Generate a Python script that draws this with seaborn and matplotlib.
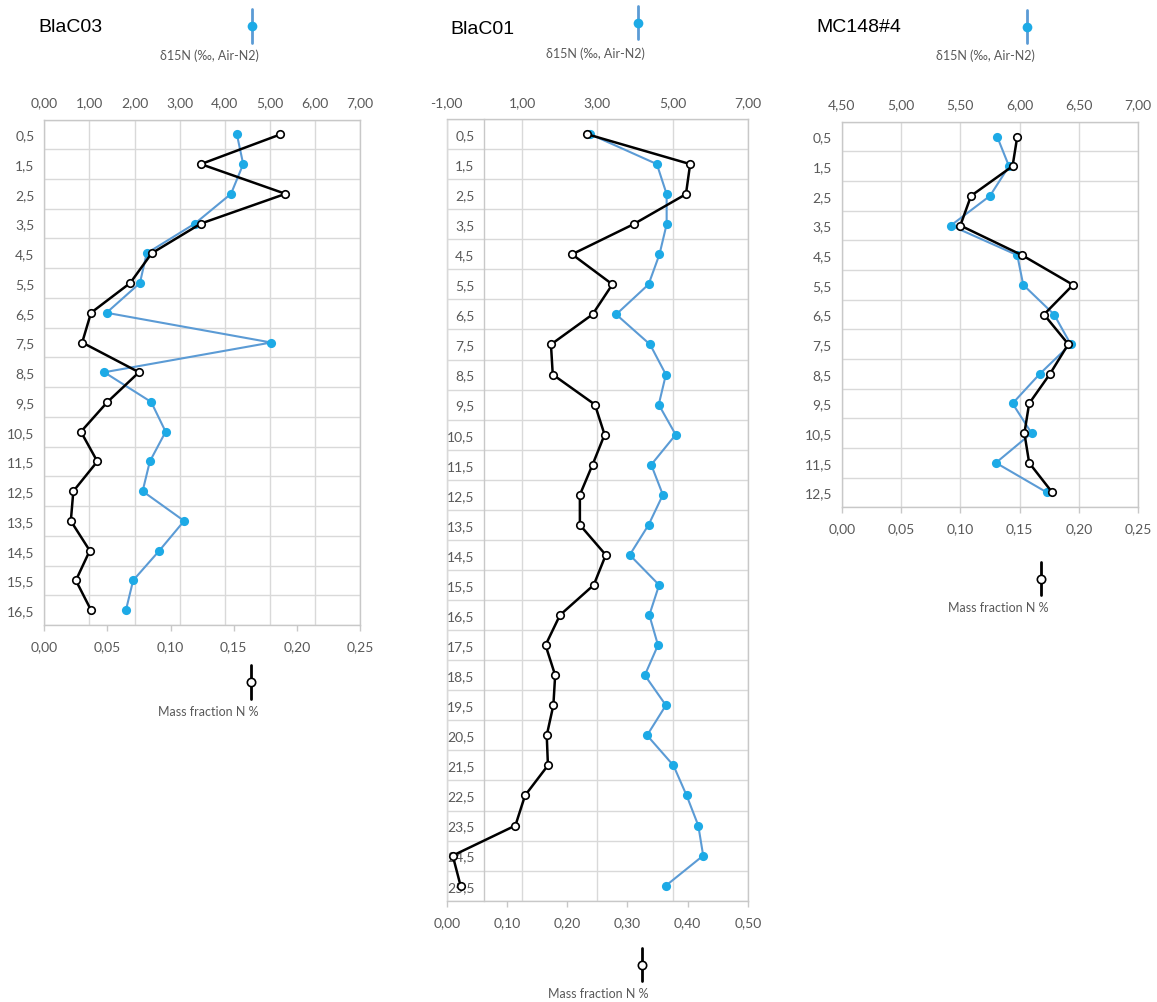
import matplotlib
matplotlib.use("Agg")
import matplotlib.pyplot as plt
import seaborn as sns
from matplotlib.lines import Line2D

# ---------------- data ----------------
blac03_depth = [0.5, 1.5, 2.5, 3.5, 4.5, 5.5, 6.5, 7.5, 8.5, 9.5, 10.5, 11.5, 12.5, 13.5, 14.5, 15.5, 16.5]
blac03_d15n = [4.27, 4.41, 4.14, 3.34, 2.27, 2.12, 1.38, 5.03, 1.33, 2.37, 2.69, 2.34, 2.18, 3.10, 2.55, 1.97, 1.81]
blac03_massN = [0.187, 0.124, 0.191, 0.124, 0.085, 0.068, 0.037, 0.030, 0.075, 0.050, 0.029, 0.042, 0.023, 0.021, 0.036, 0.025, 0.037]

blac01_depth = [0.5, 1.5, 2.5, 3.5, 4.5, 5.5, 6.5, 7.5, 8.5, 9.5, 10.5, 11.5, 12.5, 13.5, 14.5, 15.5, 16.5,
                17.5, 18.5, 19.5, 20.5, 21.5, 22.5, 23.5, 24.5, 25.5]
blac01_d15n = [2.80, 4.58, 4.84, 4.84, 4.65, 4.36, 3.50, 4.40, 4.82, 4.63, 5.08, 4.43, 4.74, 4.36, 3.86, 4.64,
               4.38, 4.61, 4.26, 4.82, 4.32, 5.02, 5.37, 5.68, 5.81, 4.82]
blac01_massN = [0.232, 0.404, 0.397, 0.310, 0.208, 0.275, 0.242, 0.173, 0.176, 0.246, 0.262, 0.242, 0.221, 0.221,
                0.264, 0.244, 0.188, 0.164, 0.180, 0.177, 0.166, 0.168, 0.130, 0.114, 0.010, 0.023]

mc148_depth = [0.5, 1.5, 2.5, 3.5, 4.5, 5.5, 6.5, 7.5, 8.5, 9.5, 10.5, 11.5, 12.5]
mc148_d15n = [5.81, 5.91, 5.75, 5.42, 5.98, 6.03, 6.29, 6.43, 6.17, 5.94, 6.10, 5.80, 6.23]
mc148_massN = [0.148, 0.144, 0.109, 0.100, 0.152, 0.195, 0.1705, 0.191, 0.1756, 0.158, 0.154, 0.158, 0.1775]

blac03_d15n_ticks = [0, 1, 2, 3, 4, 5, 6, 7]
blac01_d15n_ticks = [-1, 1, 3, 5, 7]
mc148_d15n_ticks = [4.5, 5.0, 5.5, 6.0, 6.5, 7.0]
blac03_mass_ticks = [0, 0.05, 0.10, 0.15, 0.20, 0.25]
blac01_mass_ticks = [0, 0.10, 0.20, 0.30, 0.40, 0.50]
mc148_mass_ticks = [0, 0.05, 0.10, 0.15, 0.20, 0.25]

titles = ["BlaC03", "BlaC01", "MC148#4"]
d15n_label = "δ15N (‰, Air-N2)"
mass_label = "Mass fraction N %"

# ---------------- style ----------------
sns.set_style("white")
plt.rcParams['font.family'] = ['Lato', 'DejaVu Sans']

W, H = 1157, 1003
BLUE_LINE = "#5B9BD5"
BLUE_DOT = "#1DAAE6"
GRID = "#D9D9D9"
SPINE = "#C8C8C8"
TXT = "#595959"

fig = plt.figure(figsize=(W / 100, H / 100), dpi=100)


def rect(l, t, r, b):
    return [l / W, 1 - b / H, (r - l) / W, (b - t) / H]


def comma(v, nd):
    return f"{v:.{nd}f}".replace(".", ",")


def panel(box, depth, d15n, mass, d15n_ticks, mass_ticks, axis_zero=None):
    ax = fig.add_axes(rect(*box))
    ax2 = ax.twiny()
    sns.lineplot(x=d15n, y=depth, ax=ax, sort=False, estimator=None, color=BLUE_LINE, lw=1.5,
                 marker='o', markersize=6.6, markerfacecolor=BLUE_DOT, markeredgecolor=BLUE_DOT,
                 markeredgewidth=0, zorder=3)
    sns.lineplot(x=mass, y=depth, ax=ax2, sort=False, estimator=None, color='black', lw=1.8,
                 marker='o', markersize=5.4, markerfacecolor='white', markeredgecolor='black',
                 markeredgewidth=1.2, zorder=4)
    ax.set_xlim(d15n_ticks[0], d15n_ticks[-1])
    ax2.set_xlim(mass_ticks[0], mass_ticks[-1])
    ax.set_ylim(depth[-1] + 0.5, depth[0] - 0.5)
    ax.set_xlabel(""); ax.set_ylabel(""); ax2.set_xlabel(""); ax2.set_ylabel("")

    # y ticks (categories) and boundaries for grid
    ax.set_yticks(depth)
    ax.set_yticklabels([comma(d, 1) for d in depth])
    ax.set_yticks([d - 0.5 for d in depth] + [depth[-1] + 0.5], minor=True)
    ax.grid(False)
    ax.grid(axis='y', which='minor', color=GRID, lw=1.0)
    ax.grid(axis='x', which='major', color=GRID, lw=1.0)
    ax.set_axisbelow(True)

    # top axis: d15N
    ax.xaxis.tick_top()
    ax.set_xticks(d15n_ticks)
    ax.set_xticklabels([comma(t, 2) for t in d15n_ticks])
    ax.tick_params(axis='x', which='both', length=0, pad=8, labelsize=10, labelcolor=TXT)
    ax.tick_params(axis='y', which='both', length=0, pad=7, labelsize=10, labelcolor=TXT)

    # bottom axis: mass fraction
    ax2.xaxis.tick_bottom()
    ax2.set_xticks(mass_ticks)
    ax2.set_xticklabels([comma(t, 2) for t in mass_ticks])
    ax2.tick_params(axis='x', length=4, width=1.0, color=SPINE, pad=7, labelsize=10, labelcolor=TXT)

    for s in ['top', 'right', 'left']:
        ax.spines[s].set_color(SPINE)
        ax.spines[s].set_linewidth(1.0)
    ax.spines['bottom'].set_visible(False)
    for s in ['top', 'right', 'left']:
        ax2.spines[s].set_visible(False)
    ax2.spines['bottom'].set_color(SPINE)
    ax2.spines['bottom'].set_linewidth(1.0)

    if axis_zero is not None:
        ax.spines['left'].set_position(('data', axis_zero))
        ax.axvline(d15n_ticks[0], color=SPINE, lw=1.0, clip_on=False, zorder=0.5)
    return ax, ax2


panel((44.3, 120.5, 360, 626), blac03_depth, blac03_d15n, blac03_massN, blac03_d15n_ticks, blac03_mass_ticks)
panel((446.7, 120, 748, 901.7), blac01_depth, blac01_d15n, blac01_massN, blac01_d15n_ticks, blac01_mass_ticks,
      axis_zero=0)
panel((841.7, 122.7, 1138.3, 508.3), mc148_depth, mc148_d15n, mc148_massN, mc148_d15n_ticks, mc148_mass_ticks)


# ---------------- titles and legend keys ----------------
def ftext(x, y, s, **kw):
    fig.text(x / W, 1 - y / H, s, **kw)


def key(x, y0, y1, line_color, lw, face, edge, mew, ms):
    fig.add_artist(Line2D([x / W, x / W], [1 - y0 / H, 1 - y1 / H], transform=fig.transFigure,
                          color=line_color, lw=lw))
    fig.add_artist(Line2D([x / W], [1 - (y0 + y1) / 2 / H], transform=fig.transFigure, marker='o',
                          markersize=ms, markerfacecolor=face, markeredgecolor=edge, markeredgewidth=mew,
                          linestyle='none'))


title_pos = [(38, 27), (450, 29), (816, 27)]
for (tx, ty), t in zip(title_pos, titles):
    ftext(tx, ty, t, ha='left', va='center', fontsize=14, family=['Liberation Sans'], color='black')

top_keys = [(252, 10, 44, 209, 56), (638, 7, 40, 595, 54), (1027, 11, 44, 985, 56)]
for kx, y0, y1, tx, ty in top_keys:
    key(kx, y0, y1, BLUE_LINE, 2.0, BLUE_DOT, BLUE_DOT, 0, 7)
    ftext(tx, ty, d15n_label, ha='center', va='center', fontsize=9, color=TXT)

bot_keys = [(251, 666, 700, 208, 712), (642, 949, 982, 598, 994), (1041, 563, 596, 998, 608)]
for kx, y0, y1, tx, ty in bot_keys:
    key(kx, y0, y1, 'black', 2.0, 'white', 'black', 1.2, 6.0)
    ftext(tx, ty, mass_label, ha='center', va='center', fontsize=9, color=TXT)

fig.savefig("out.png", dpi=100, facecolor='white')
